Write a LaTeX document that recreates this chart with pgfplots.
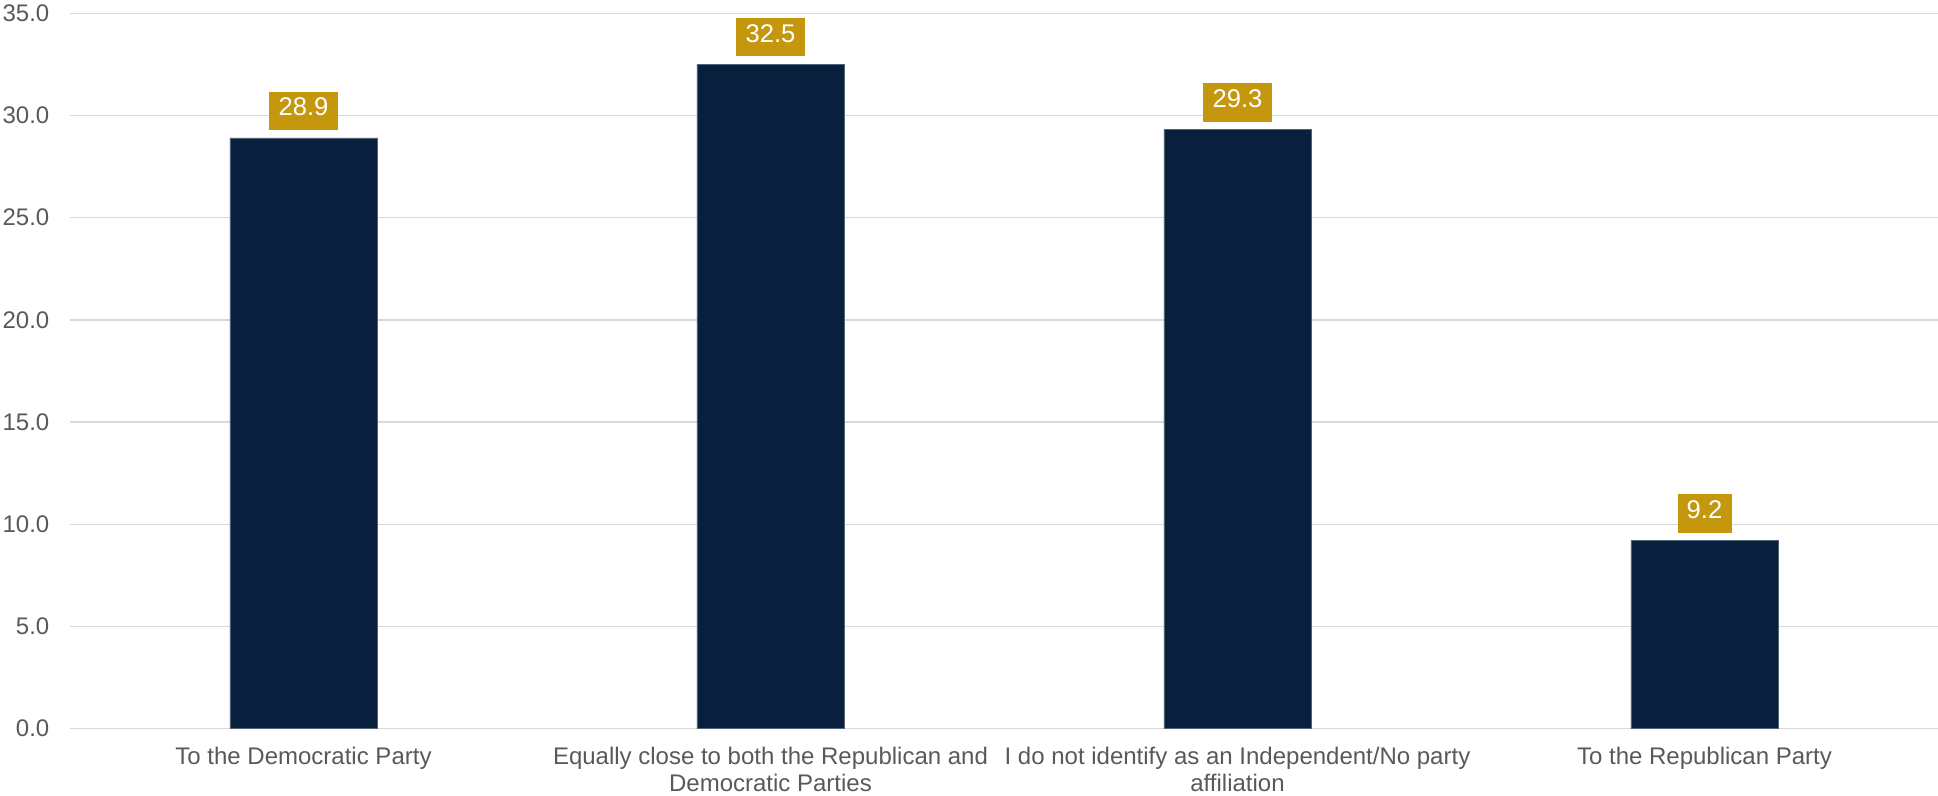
\documentclass[border=0pt]{standalone}
\usepackage{fontspec}
\setmainfont{Liberation Sans}
\usepackage{pgfplots}
\pgfplotsset{compat=1.18}
\definecolor{barblue}{HTML}{081F3D}
\definecolor{gold}{HTML}{C5970D}
\definecolor{gridgray}{HTML}{D9D9D9}
\definecolor{txtgray}{HTML}{595959}
\begin{document}
\begin{tikzpicture}
\begin{axis}[
  name=ax,
  scale only axis,
  width=934pt, height=357.7pt,
  xmin=-0.5, xmax=3.5,
  ymin=0, ymax=35,
  ytick={0,5,...,35},
  xtick={0,1,2,3},
  xticklabels={{To the Democratic Party},{Equally close to both the Republican and\\Democratic Parties},{I do not identify as an Independent/No party\\affiliation},{To the Republican Party}},
  ymajorgrids,
  grid style={draw=gridgray, line width=0.75pt},
  axis line style={draw=none},
  major tick length=0pt,
  tick label style={font=\fontsize{12}{13.8}\selectfont, text=txtgray},
  xticklabel style={align=center, yshift=-5.5pt},
  yticklabel style={xshift=-6.8pt},
  /pgf/number format/assume math mode=true,
  yticklabel={\pgfmathprintnumber[fixed,fixed zerofill,precision=1]{\tick}},
  ybar,
  bar width=0.315,
  nodes near coords={\pgfmathprintnumber[fixed,fixed zerofill,precision=1,assume math mode=true]{\pgfplotspointmeta}},
  every node near coord/.append style={
    font=\fontsize{12.8}{14.7}\selectfont, text=white, fill=gold,
    anchor=south, yshift=3.8pt, inner xsep=4.6pt, inner ysep=4.9pt,
    text height=0.72em, text depth=0.22em},
  clip=false,
]
\addplot[fill=barblue, draw=barblue!70!white, line width=0.4pt] coordinates {(0,28.9) (1,32.5) (2,29.3) (3,9.2)};
\end{axis}
\pgfresetboundingbox
\path (ax.south west) ++(-35pt,-33.65pt) coordinate (bl);
\path (ax.north east) ++(0pt,6.65pt) coordinate (tr);
\useasboundingbox (bl) rectangle (tr);
\end{tikzpicture}
\end{document}
